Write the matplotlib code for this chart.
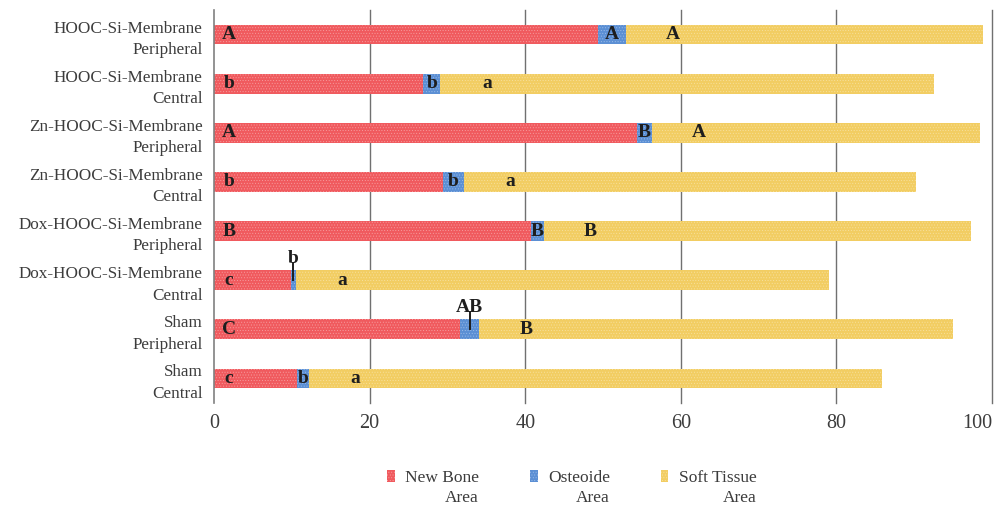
import matplotlib
matplotlib.use("Agg")
import matplotlib.pyplot as plt
import numpy as np

# Categories, listed top to bottom
groups = [
    "HOOC-Si-Membrane\nPeripheral",
    "HOOC-Si-Membrane\nCentral",
    "Zn-HOOC-Si-Membrane\nPeripheral",
    "Zn-HOOC-Si-Membrane\nCentral",
    "Dox-HOOC-Si-Membrane\nPeripheral",
    "Dox-HOOC-Si-Membrane\nCentral",
    "Sham\nPeripheral",
    "Sham\nCentral",
]

# Area percentages per tissue type
new_bone = [49.4, 26.9, 54.4, 29.4, 40.7, 9.9, 31.6, 10.7]
osteoide = [3.6, 2.2, 1.9, 2.7, 1.7, 0.6, 2.5, 1.5]
soft_tissue = [45.8, 63.5, 42.2, 58.1, 54.9, 68.6, 60.9, 73.7]

# Statistical group letters
letters_bone = ["A", "b", "A", "b", "B", "c", "C", "c"]
letters_ost = ["A", "b", "B", "b", "B", "b", "AB", "b"]
letters_soft = ["A", "a", "A", "a", "B", "a", "B", "a"]

x_ticks = [0, 20, 40, 60, 80, 100]
series_names = ["New Bone\nArea", "Osteoide\nArea", "Soft Tissue\nArea"]
colors = ["#f05a5e", "#5b8fd4", "#f2cd62"]
hatch_colors = ["#f7a0a2", "#9dbde8", "#f8e2a0"]

plt.rcParams["hatch.linewidth"] = 0.35
serif = ["Liberation Serif", "DejaVu Serif"]

fig = plt.figure(figsize=(10.06, 5.11), dpi=100)
ax = fig.add_axes([214 / 1006, 1 - 403 / 511, 778 / 1006, 393 / 511])

y = np.arange(len(groups))
nb = np.array(new_bone)
os_ = np.array(osteoide)
st = np.array(soft_tissue)
lefts = [np.zeros_like(nb), nb, nb + os_]
vals = [nb, os_, st]

bars = []
for v, l, c, hc, name in zip(vals, lefts, colors, hatch_colors, series_names):
    b = ax.barh(y, v, left=l, height=0.4, color=c, edgecolor=hc,
                linewidth=0, hatch="......", label=name, zorder=2)
    bars.append(b)

ax.set_ylim(len(groups) - 0.5, -0.5)
ax.set_xlim(0, 100)
ax.set_xticks(x_ticks)
ax.set_yticks(y)
ax.set_yticklabels(groups)
for t in ax.get_yticklabels():
    t.set_linespacing(1.45)
    t.set_fontfamily(serif)
    t.set_fontsize(12.3)
    t.set_color("#3c3c3c")
    t.set_multialignment("right")
for t in ax.get_xticklabels():
    t.set_fontfamily(serif)
    t.set_fontsize(14.5)
    t.set_color("#3c3c3c")
# keep the last tick label inside the figure edge
ax.xaxis.get_major_ticks()[-1].label1.set_horizontalalignment("right")
ax.tick_params(axis="both", length=0)
ax.tick_params(axis="y", pad=8)
ax.tick_params(axis="x", pad=8)

# vertical grid lines (drawn unclipped so the 100 line shows)
for xv in x_ticks[1:]:
    ax.axvline(xv, color="#707070", linewidth=1.0, zorder=0, clip_on=False)
for s in ["top", "right", "bottom"]:
    ax.spines[s].set_visible(False)
ax.spines["left"].set_color("#808080")
ax.spines["left"].set_linewidth(1.2)

lab_kw = dict(fontfamily=serif, fontweight="bold", fontsize=14,
              color="#1e1e1e", va="center", ha="center", zorder=4)

for i in range(len(groups)):
    ax.text(1.9, y[i], letters_bone[i], **lab_kw)
    ost_mid = nb[i] + os_[i] / 2
    if os_[i] < 1.0 or letters_ost[i] == "AB":
        # narrow segment: letter placed above with a short leader line
        ax.plot([ost_mid, ost_mid], [y[i] - 0.35, y[i]], color="#1e1e1e",
                linewidth=1.4, zorder=5)
        ax.text(ost_mid, y[i] - 0.44, letters_ost[i], **lab_kw)
    else:
        ax.text(ost_mid, y[i], letters_ost[i], **lab_kw)
    ax.text(nb[i] + os_[i] + 6.0, y[i], letters_soft[i], **lab_kw)

# Legend: first line next to the swatch, "Area" right-aligned underneath
first_lines = [n.split("\n")[0] for n in series_names]
leg = fig.legend(bars, first_lines, loc="center", ncol=3, frameon=False,
                 bbox_to_anchor=(572 / 1006, 1 - 478 / 511),
                 prop={"family": serif, "size": 12.5},
                 handlelength=0.42, handleheight=0.65, handletextpad=0.6,
                 columnspacing=2.95)
for t in leg.get_texts():
    t.set_color("#3c3c3c")

fig.canvas.draw()
renderer = fig.canvas.get_renderer()
inv = fig.transFigure.inverted()
for t, name in zip(leg.get_texts(), series_names):
    bb = t.get_window_extent(renderer)
    x1, y0 = inv.transform((bb.x1, bb.y0))
    fig.text(x1, y0 - 0.008, name.split("\n")[1], ha="right", va="top",
             fontfamily=serif, fontsize=12.5, color="#3c3c3c")

fig.savefig("out.png", dpi=100)
